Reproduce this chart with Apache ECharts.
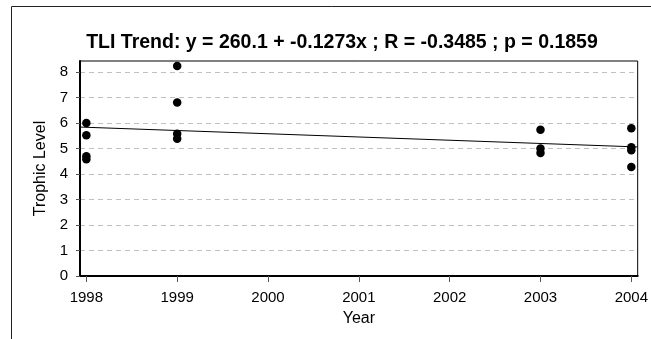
<!DOCTYPE html>
<html>
<head>
<meta charset="utf-8">
<script src="https://cdn.jsdelivr.net/npm/echarts@6/dist/echarts.min.js"></script>
<style>
  html, body { margin: 0; padding: 0; background: #fff; }
  #chart { width: 651px; height: 339px; }
</style>
</head>
<body>
<div id="chart"></div>
<script>
// scatter values
const years = [1998, 1998, 1998, 1998, 1999, 1999, 1999, 1999, 2003, 2003, 2003, 2004, 2004, 2004, 2004];
const tli = [6.0, 5.52, 4.7, 4.58, 8.23, 6.8, 5.58, 5.38, 5.73, 5.0, 4.82, 5.79, 5.05, 4.93, 4.27];

// trend line ends (y = 260.1 + -0.1273x across the axis range)
const trendX = [1997.93, 2004.07];
const trendY = [5.84, 5.06];

const yearTicks = [1998, 1999, 2000, 2001, 2002, 2003, 2004];
const levelTicks = [0, 1, 2, 3, 4, 5, 6, 7, 8];

const titleText = 'TLI Trend: y = 260.1 + -0.1273x ; R = -0.3485 ; p = 0.1859';
const font = "'Liberation Sans', Arial, sans-serif";

const chart = echarts.init(document.getElementById('chart'), null, { renderer: 'canvas' });

chart.setOption({
	backgroundColor: '#fff',
	animation: false,
	title: {
		text: titleText,
		left: 337,
		top: 28,
		textAlign: 'center',
		textStyle: { fontFamily: font, fontSize: 19.5, fontWeight: 'bold', color: '#000' }
	},
	graphic: [{
		type: 'rect',
		shape: { x: 11.5, y: 6.5, width: 700, height: 400 },
		style: { fill: 'none', stroke: '#222', lineWidth: 1 },
		silent: true
	}],
	grid: {
		left: 80, right: 9, top: 61, bottom: 63,
		show: true, borderColor: '#000', borderWidth: 1, backgroundColor: '#fff'
	},
	xAxis: {
		type: 'value',
		min: 1997.93,
		max: 2004.07,
		name: 'Year',
		nameLocation: 'middle',
		nameGap: 35,
		nameTextStyle: { fontFamily: font, fontSize: 16, color: '#000' },
		axisLine: { lineStyle: { color: '#000', width: 2 } },
		axisTick: { customValues: yearTicks, length: 6, lineStyle: { color: '#555' } },
		axisLabel: {
			customValues: yearTicks, margin: 14,
			fontFamily: font, fontSize: 15, color: '#000',
			formatter: v => String(v)
		},
		splitLine: { show: false }
	},
	yAxis: {
		type: 'value',
		min: 0,
		max: 8.43,
		name: 'Trophic Level',
		nameLocation: 'middle',
		nameGap: 26,
		nameTextStyle: { fontFamily: font, fontSize: 16, color: '#000' },
		axisLine: { show: true, lineStyle: { color: '#000', width: 2 } },
		axisTick: { show: true, customValues: levelTicks, length: 4, lineStyle: { color: '#555' } },
		axisLabel: { customValues: levelTicks, margin: 12, fontFamily: font, fontSize: 15, color: '#000' },
		splitLine: { show: true, lineStyle: { color: '#c0c0c0', type: [5, 4], width: 1 } }
	},
	series: [{
		type: 'line',
		data: trendX.map((x, i) => [x, trendY[i]]),
		symbol: 'none',
		lineStyle: { color: '#000', width: 1 },
		z: 2
	}, {
		type: 'scatter',
		data: years.map((x, i) => [x, tli[i]]),
		symbol: 'circle',
		symbolSize: 8.5,
		itemStyle: { color: '#000', opacity: 1 },
		z: 3
	}]
});
</script>
</body>
</html>
